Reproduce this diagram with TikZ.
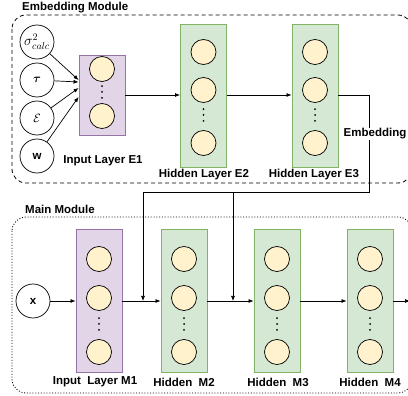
\documentclass[tikz,border=0pt]{standalone}
\usepackage{amsmath}
\usepackage{amssymb}
\usepackage{bm}
\usepackage{fontspec}
\setsansfont{Liberation Sans}
\usepackage{tikz}
\usetikzlibrary{arrows.meta,calc}
\definecolor{inpurple}{HTML}{E1D5E7}
\definecolor{inpurpleline}{HTML}{9673A6}
\definecolor{hidgreen}{HTML}{D5E8D4}
\definecolor{hidgreenline}{HTML}{82B366}
\definecolor{unityellow}{HTML}{FFF2CC}
\newcommand{\lblfont}{\fontsize{11.5}{13}\selectfont\sffamily\bfseries}

\begin{document}
\begin{tikzpicture}[x=1pt,y=-1pt,
    layer/.style={rectangle,draw,line width=0.9pt,minimum width=46pt,inner sep=0pt},
    inlayer/.style={layer,fill=inpurple,draw=inpurpleline},
    hidlayer/.style={layer,fill=hidgreen,draw=hidgreenline,minimum height=143pt},
    unit/.style={circle,draw,line width=0.7pt,fill=unityellow,minimum size=25pt,inner sep=0pt},
    feat/.style={circle,draw,line width=0.7pt,fill=white,minimum size=34pt,inner sep=0pt},
    ellip/.style={minimum width=4pt,minimum height=17pt,inner sep=0pt,
        path picture={\fill (path picture bounding box.center) circle (1pt) ++(0,5.8) circle (1pt) ++(0,-11.6) circle (1pt);}},
    lbl/.style={font=\lblfont,inner sep=1pt},
    link/.style={-{Latex[length=5pt,width=4pt]},line width=0.7pt},
    plain/.style={line width=0.7pt}]
    \useasboundingbox (0,0) rectangle (408,396);

    % Module frames
    \draw[dashed,dash pattern=on 4pt off 3pt,line width=0.8pt,rounded corners=14pt] (12,15) rectangle (412,183);
    \draw[line width=0.8pt,dash pattern=on 1pt off 1.8pt,rounded corners=14pt] (12,217) rectangle (412,393);
    \node[lbl,anchor=west] (embtitle) at (21,8) {Embedding Module};
    \node[lbl,anchor=west] (maintitle) at (24,209) {Main Module};

    % Embedding inputs
    \node[feat] (s1) at (37,42) {\fontsize{14}{14}\selectfont$\sigma^2_{calc}$};
    \node[feat] (s2) at (37,80) {\fontsize{13}{13}\selectfont$\bm{\tau}$};
    \node[feat] (s3) at (37,118) {\fontsize{12.5}{12.5}\selectfont$\mathcal{E}$};
    \node[feat] (s4) at (37,156) {\lblfont w};

    % Embedding layers
    \node[inlayer,minimum height=80pt] (e1) at (102,95) {};
    \node[unit] (e1a) at (102,69) {};
    \node[ellip] (e1d) at (102,92) {};
    \node[unit] (e1b) at (102,116) {};

    \node[hidlayer] (e2) at (203.5,95.5) {};
    \node[unit] (e2a) at (203.5,52) {};
    \node[unit] (e2b) at (203.5,90) {};
    \node[ellip] (e2d) at (203.5,115) {};
    \node[unit] (e2c) at (203.5,143) {};

    \node[hidlayer] (e3) at (315,95.5) {};
    \node[unit] (e3a) at (315,52) {};
    \node[unit] (e3b) at (315,90) {};
    \node[ellip] (e3d) at (315,115) {};
    \node[unit] (e3c) at (315,143) {};

    \draw[link] (s1) -- ($(e1.west)+(0,-15)$);
    \draw[link] (s2) -- ($(e1.west)+(0,-13)$);
    \draw[link] (s3) -- ($(e1.west)+(0,-7)$);
    \draw[link] (s4) -- ($(e1.west)+(0,2)$);
    \draw[link] (e1.east) -- (e1.east -| e2.west);
    \draw[link] (e2.east |- e1.east) -- (e1.east -| e3.west);

    \node[lbl] (e1lbl) at (103,161) {Input Layer E1};
    \node[lbl] (e2lbl) at (204,175) {Hidden Layer E2};
    \node[lbl] (e3lbl) at (314,175) {Hidden Layer E3};

    % Main layers
    \node[feat] (xin) at (33,301) {\lblfont x};

    \node[inlayer,minimum height=143pt] (m1) at (99,301) {};
    \node[unit] (m1a) at (99,259) {};
    \node[unit] (m1b) at (99,298) {};
    \node[ellip] (m1d) at (99,324) {};
    \node[unit] (m1c) at (99,352) {};

    \node[hidlayer] (m2) at (184,301) {};
    \node[unit] (m2a) at (184,259) {};
    \node[unit] (m2b) at (184,298) {};
    \node[ellip] (m2d) at (184,324) {};
    \node[unit] (m2c) at (184,352) {};

    \node[hidlayer] (m3) at (277,301) {};
    \node[unit] (m3a) at (277,259) {};
    \node[unit] (m3b) at (277,298) {};
    \node[ellip] (m3d) at (277,324) {};
    \node[unit] (m3c) at (277,352) {};

    \node[hidlayer] (m4) at (370,301) {};
    \node[unit] (m4a) at (370,259) {};
    \node[unit] (m4b) at (370,298) {};
    \node[ellip] (m4d) at (370,324) {};
    \node[unit] (m4c) at (370,352) {};

    \coordinate (out) at (410,301);
    \draw[link] (xin) -- (m1);
    \draw[link] (m1.east) -- (m2.west);
    \draw[link] (m2.east) -- (m3.west);
    \draw[link] (m3.east) -- (m4.west);
    \draw[link] (m4.east) -- (out);

    \node[lbl] (m1lbl) at (95,382) {Input\ \ Layer M1};
    \node[lbl] (m2lbl) at (184,382) {Hidden\ \ M2};
    \node[lbl] (m3lbl) at (278,382) {Hidden\ \ M3};
    \node[lbl] (m4lbl) at (370,382) {Hidden\ \ M4};

    % Embedding fed into the main module
    \coordinate (emb) at (369,192);
    \coordinate (j1) at (143,301);
    \coordinate (j2) at (233,301);
    \draw[plain] (e3.east |- e1.east) -| (emb) -- (emb -| j1);
    \draw[link] (emb -| j1) -- (j1);
    \draw[link] (emb -| j2) -- (j2);
    \node[lbl,fill=white] (emblbl) at (375,134) {Embedding};
\end{tikzpicture}
\end{document}
